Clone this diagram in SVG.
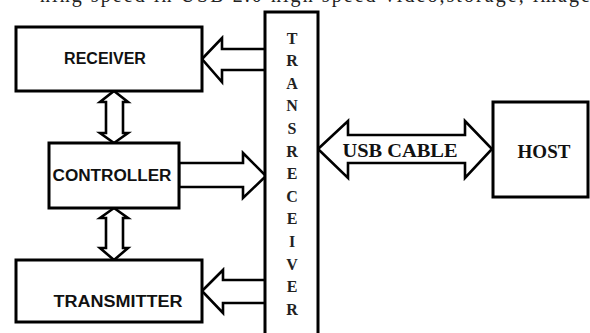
<svg xmlns="http://www.w3.org/2000/svg" width="590" height="333" viewBox="0 0 590 333">
<style>
.box{fill:#fff;stroke:#000;stroke-width:3}
.arr{fill:#fff;stroke:#000;stroke-width:2.6;stroke-linejoin:miter}
.sans{font-family:"Liberation Sans",Arial,sans-serif;font-weight:bold;font-size:16px;fill:#111;text-anchor:middle}
.serif{font-family:"Liberation Serif","Times New Roman",serif;font-weight:bold;fill:#111;text-anchor:middle}
.vt{font-size:16px;fill:#222}
</style>
<rect width="590" height="333" fill="#fff"/>
<text x="40" y="2" font-family="Liberation Serif, serif" font-size="20" fill="#222" textLength="550" lengthAdjust="spacing">ning speed in USB 2.0 high speed video,storage, image</text>
<g id="connectors">
<polygon class="arr" points="202,59 222,38 222,49 266,49 266,70 222,70 222,82"/>
<polygon class="arr" points="179,163 243,163 243,153 266,176 243,198 243,187 179,187"/>
<polygon class="arr" points="202,291 223,270 223,280 266,280 266,303 223,303 223,313"/>
<polygon class="arr" points="114,91 128,102 123,102 123,133 128,133 114,143 100,133 106,133 106,102 100,102"/>
<polygon class="arr" points="114,208 128,218 123,218 123,248 128,248 114,260 100,248 106,248 106,218 100,218"/>
<polygon class="arr" points="318,149 348,121 348,135 465,135 465,121 492,149 465,178 465,163 348,163 348,178"/>
<text class="serif" x="400" y="157" font-size="18" textLength="115" lengthAdjust="spacingAndGlyphs">USB CABLE</text>
</g>
<g id="receiver">
<rect class="box" x="16" y="27" width="186" height="64"/>
<text class="sans" x="105" y="64">RECEIVER</text>
</g>
<g id="controller">
<rect class="box" x="49" y="143" width="130" height="65"/>
<text class="sans" x="112" y="181" textLength="119" lengthAdjust="spacingAndGlyphs">CONTROLLER</text>
</g>
<g id="transmitter">
<rect class="box" x="16" y="260" width="186" height="62"/>
<text class="sans" x="118" y="307" textLength="129" lengthAdjust="spacingAndGlyphs">TRANSMITTER</text>
</g>
<g id="transreceiver">
<rect class="box" x="265" y="12" width="53" height="330"/>
<g class="serif vt">
<text x="292" y="43.5">T</text>
<text x="292" y="66.1">R</text>
<text x="292" y="88.7">A</text>
<text x="292" y="111.3">N</text>
<text x="292" y="133.9">S</text>
<text x="292" y="156.5">R</text>
<text x="292" y="179.1">E</text>
<text x="292" y="201.7">C</text>
<text x="292" y="224.3">E</text>
<text x="292" y="246.9">I</text>
<text x="292" y="269.5">V</text>
<text x="292" y="292.1">E</text>
<text x="292" y="314.7">R</text>
</g>
</g>
<g id="host">
<rect class="box" x="493" y="102" width="95" height="95"/>
<text class="serif" x="544" y="158" font-size="19">HOST</text>
</g>
</svg>
